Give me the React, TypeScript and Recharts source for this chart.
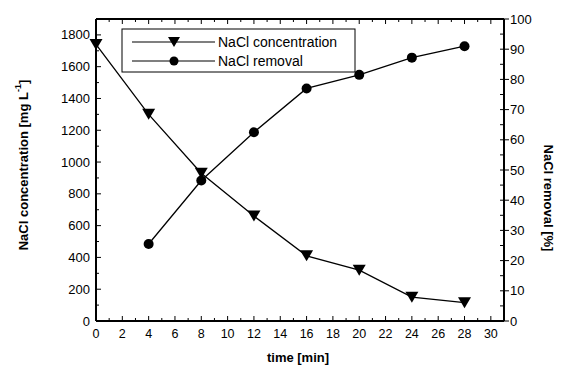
import React from "react";
import { ComposedChart, Line, XAxis, YAxis, Label, Customized } from "recharts";

// time [min]
const time = [0, 4, 8, 12, 16, 20, 24, 28];
// NaCl concentration [mg L-1]
const concentration = [1740, 1300, 930, 660, 410, 320, 150, 115];
// NaCl removal [%]
const removal = [null, 25.5, 46.5, 62.5, 77, 81.5, 87.2, 91];

const seriesNames = ["NaCl concentration", "NaCl removal"];

const xTicks = Array.from({ length: 32 }, (_, i) => i);
const leftTicks = Array.from({ length: 20 }, (_, i) => i * 100);
const rightTicks = Array.from({ length: 21 }, (_, i) => i * 5);

const data = time.map((t, i) => ({
  time: t,
  conc: concentration[i],
  removal: removal[i],
}));

const FONT = "'Liberation Sans', Arial, sans-serif";

const BottomTick = (p: any) => {
  const { x, y, payload } = p;
  const v = payload.value;
  const major = v % 2 === 0;
  return (
    <g>
      <line x1={x} x2={x} y1={y} y2={y - (major ? 5 : 3)} stroke="#000" />
      {major && v <= 30 && (
        <text x={x} y={y + 17} textAnchor="middle" fontSize={12.5} fontFamily={FONT} fill="#000">
          {v}
        </text>
      )}
    </g>
  );
};

const TopTick = (p: any) => {
  const { x, y, payload } = p;
  const major = payload.value % 2 === 0;
  return <line x1={x} x2={x} y1={y} y2={y + (major ? 5 : 3)} stroke="#000" />;
};

const LeftTick = (p: any) => {
  const { x, y, payload } = p;
  const v = payload.value;
  const major = v % 200 === 0;
  return (
    <g>
      <line x1={x} x2={x + (major ? 5 : 3)} y1={y} y2={y} stroke="#000" />
      {major && v <= 1800 && (
        <text x={x - 6} y={y + 4.5} textAnchor="end" fontSize={13} fontFamily={FONT} fill="#000">
          {v}
        </text>
      )}
    </g>
  );
};

const RightTick = (p: any) => {
  const { x, y, payload } = p;
  const v = payload.value;
  const major = v % 10 === 0;
  return (
    <g>
      <line x1={x - 4} x2={x + (major ? 5 : 0)} y1={y} y2={y} stroke="#000" />
      {major && (
        <text x={x + 6} y={y + 4.5} textAnchor="start" fontSize={13} fontFamily={FONT} fill="#000">
          {v}
        </text>
      )}
    </g>
  );
};

const TriDot = (p: any) => {
  const { cx, cy, index } = p;
  if (cx == null || cy == null) return <g key={index} />;
  return (
    <path
      key={index}
      d={`M${cx - 6.5},${cy - 5.5} L${cx + 6.5},${cy - 5.5} L${cx},${cy + 5.5} Z`}
      fill="#000"
    />
  );
};

const CircleDot = (p: any) => {
  const { cx, cy, index, value } = p;
  if (cx == null || cy == null || value == null) return <g key={index} />;
  return <circle key={index} cx={cx} cy={cy} r={5} fill="#000" />;
};

const LegendBox = () => {
  const x0 = 122;
  const y0 = 29;
  const rows = [42, 61];
  return (
    <g fontFamily={FONT}>
      <rect x={x0} y={y0} width={233} height={43} fill="#fff" stroke="#000" strokeWidth={1} />
      {seriesNames.map((name, i) => (
        <g key={name}>
          <line x1={132} x2={215} y1={rows[i]} y2={rows[i]} stroke="#000" strokeWidth={1.2} />
          {i === 0 ? (
            <path d={`M168,${rows[i] - 5} L180,${rows[i] - 5} L174,${rows[i] + 5} Z`} fill="#000" />
          ) : (
            <circle cx={174} cy={rows[i]} r={4.5} fill="#000" />
          )}
          <text x={218} y={rows[i] + 5} fontSize={14} fill="#000">
            {name}
          </text>
        </g>
      ))}
    </g>
  );
};

export default function App() {
  return (
    <div style={{ position: "absolute", left: 0, top: 0, background: "#fff" }}>
      <ComposedChart
        width={561}
        height={365}
        data={data}
        margin={{ top: 18, right: 17, bottom: 14, left: 36 }}
      >
        <XAxis
          xAxisId="b"
          dataKey="time"
          type="number"
          domain={[0, 31]}
          ticks={xTicks}
          interval={0}
          tickSize={0}
          tickMargin={0}
          tickLine={false}
          tick={<BottomTick />}
          axisLine={{ stroke: "#000", strokeWidth: 2 }}
          height={30}
        >
          <Label
            content={({ viewBox }: any) => (
              <text
                x={viewBox.x + viewBox.width / 2 - 2}
                y={viewBox.y + 41}
                textAnchor="middle"
                fontSize={13}
                fontWeight="bold"
                fontFamily={FONT}
                fill="#000"
              >
                time [min]
              </text>
            )}
          />
        </XAxis>
        <XAxis
          xAxisId="t"
          orientation="top"
          dataKey="time"
          type="number"
          domain={[0, 31]}
          ticks={xTicks}
          interval={0}
          tickSize={0}
          tickMargin={0}
          tickLine={false}
          tick={<TopTick />}
          axisLine={{ stroke: "#000", strokeWidth: 2 }}
          height={1}
        />
        <YAxis
          yAxisId="l"
          type="number"
          domain={[0, 1900]}
          ticks={leftTicks}
          interval={0}
          tickSize={0}
          tickMargin={0}
          tickLine={false}
          tick={<LeftTick />}
          axisLine={{ stroke: "#000", strokeWidth: 2 }}
          width={60}
        >
          <Label
            content={({ viewBox }: any) => {
              const cx = viewBox.x - 13;
              const cy = viewBox.y + viewBox.height / 2 - 5;
              return (
                <text
                  x={cx}
                  y={cy}
                  transform={`rotate(-90 ${cx} ${cy})`}
                  textAnchor="middle"
                  dominantBaseline="central"
                  fontSize={13}
                  fontWeight="bold"
                  fontFamily={FONT}
                  fill="#000"
                >
                  NaCl concentration [mg L
                  <tspan fontSize={9} dy={-5}>-1</tspan>
                  <tspan dy={5}>]</tspan>
                </text>
              );
            }}
          />
        </YAxis>
        <YAxis
          yAxisId="r"
          orientation="right"
          type="number"
          domain={[0, 100]}
          ticks={rightTicks}
          interval={0}
          tickSize={0}
          tickMargin={0}
          tickLine={false}
          tick={<RightTick />}
          axisLine={{ stroke: "#000", strokeWidth: 2 }}
          width={40}
        >
          <Label
            content={({ viewBox }: any) => {
              const cx = viewBox.x + 44;
              const cy = viewBox.y + 179;
              return (
                <text
                  x={cx}
                  y={cy}
                  transform={`rotate(90 ${cx} ${cy})`}
                  textAnchor="middle"
                  dominantBaseline="central"
                  fontSize={13}
                  fontWeight="bold"
                  fontFamily={FONT}
                  fill="#000"
                >
                  NaCl removal [%]
                </text>
              );
            }}
          />
        </YAxis>
        <Line
          xAxisId="b"
          yAxisId="l"
          dataKey="conc"
          name={seriesNames[0]}
          type="linear"
          stroke="#000"
          strokeWidth={1.3}
          dot={TriDot}
          isAnimationActive={false}
        />
        <Line
          xAxisId="b"
          yAxisId="r"
          dataKey="removal"
          name={seriesNames[1]}
          type="linear"
          stroke="#000"
          strokeWidth={1.3}
          dot={CircleDot}
          isAnimationActive={false}
        />
        <Customized component={LegendBox} />
      </ComposedChart>
    </div>
  );
}
